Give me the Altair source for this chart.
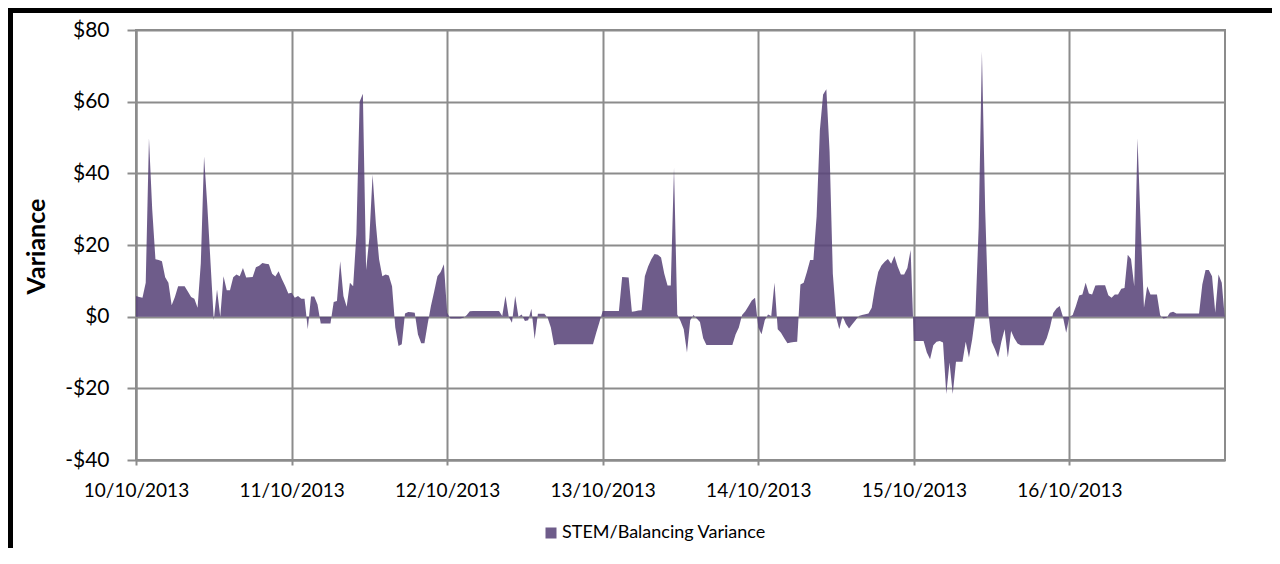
import altair as alt
import pandas as pd

# Half-hourly STEM/Balancing variance ($), one list per day
d10 = [5.8, 5.5, 5.3, 9.5, 49.8, 30.0, 16.0, 15.8, 15.5, 11.0,
       9.5, 3.2, 5.5, 8.5, 8.5, 8.5, 7.0, 5.5, 5.0, 2.5,
       15.0, 44.7, 31.0, 15.0, -1.0, 7.6, 0.0, 11.3, 7.4, 7.4,
       11.0, 11.8, 11.3, 13.6, 10.9, 11.0, 11.1, 13.8, 14.2, 15.0,
       14.8, 14.6, 12.0, 11.2, 12.7, 10.5, 8.6, 6.5]
d11 = [6.7, 5.3, 5.75, 5.0, 5.0, -3.5, 5.6, 5.6, 3.4, -1.9,
       -1.9, -1.9, -1.9, 4.1, 4.4, 15.5, 5.75, 2.8, 9.5, 8.5,
       23.0, 60.0, 62.2, 13.0, 22.0, 39.6, 26.0, 16.0, 11.3, 11.8,
       11.5, 8.5, -3.0, -8.2, -7.7, 0.9, 1.3, 1.2, 1.1, -5.0,
       -7.4, -7.4, -2.0, 3.0, 7.0, 11.3, 12.5, 14.6]
d12 = [1.1, -0.5, -0.5, -0.5, -0.5, -0.3, 0.4, 1.5, 1.6, 1.6,
       1.6, 1.6, 1.6, 1.6, 1.6, 1.6, 1.6, 0.2, 5.75, 0.0,
       -1.7, 5.75, 0.0, 0.6, -1.2, -1.0, 2.2, -6.3, 0.8, 0.8,
       0.8, -0.3, -3.0, -8.0, -7.7, -7.7, -7.7, -7.7, -7.7, -7.7,
       -7.7, -7.7, -7.7, -7.7, -7.7, -7.7, -4.5, -1.5]
d13 = [1.6, 1.6, 1.6, 1.6, 1.6, 1.6, 11.1, 11.0, 10.9, 1.4,
       1.5, 1.7, 1.8, 11.3, 14.0, 16.0, 17.5, 17.3, 16.5, 12.0,
       8.7, 8.7, 41.5, 0.6, -1.2, -3.5, -10.0, -1.0, 0.5, -0.5,
       -1.5, -6.0, -7.9, -7.9, -7.9, -7.9, -7.9, -7.9, -7.9, -7.9,
       -7.9, -5.0, -3.0, 0.5, 1.5, 3.0, 4.5, 5.3]
d14 = [-3.0, -4.9, -1.0, 0.6, 0.2, 9.5, -3.5, -4.5, -6.0, -7.4,
       -7.2, -7.1, -7.0, 9.0, 9.5, 12.5, 15.8, 15.8, 28.0, 52.0,
       62.0, 63.5, 46.0, 12.0, 0.0, -3.5, 0.2, -2.0, -3.3, -2.1,
       -1.0, 0.2, 0.5, 0.7, 0.9, 2.5, 8.0, 12.5, 14.3, 15.3,
       16.1, 14.8, 16.9, 14.0, 11.8, 11.8, 13.6, 18.6]
d15 = [-6.8, -6.8, -6.8, -6.8, -10.0, -11.9, -8.0, -7.0, -6.8, -7.2,
       -21.6, -12.8, -21.6, -12.6, -12.6, -12.6, -7.0, -11.4, -6.3, 0.6,
       25.0, 73.9, 30.0, 1.1, -7.0, -9.0, -11.4, -7.0, -3.5, -11.4,
       -4.0, -6.0, -7.5, -8.0, -8.0, -8.0, -8.0, -8.0, -8.0, -8.0,
       -8.0, -6.0, -3.0, 1.0, 2.3, 3.0, 0.0, -4.5]
d16 = [0.0, 0.5, 3.0, 5.9, 6.2, 9.5, 6.5, 6.2, 8.7, 8.8,
       8.8, 8.8, 6.0, 5.3, 6.2, 6.2, 7.8, 8.0, 17.3, 16.1,
       8.5, 49.8, 25.0, 2.5, 8.5, 6.2, 6.2, 6.2, 0.4, -0.5,
       -0.3, 1.1, 1.4, 0.9, 0.9, 0.9, 0.9, 0.9, 0.9, 0.9,
       0.9, 9.0, 13.0, 13.0, 11.3, 1.1, 11.8, 9.5]
d17_start = [-1.0]

series_name = "STEM/Balancing Variance"
y_ticks = [-40, -20, 0, 20, 40, 60, 80]
label_days = [10, 11, 12, 13, 14, 15, 16]

values = d10 + d11 + d12 + d13 + d14 + d15 + d16 + d17_start
times = pd.date_range("2013-10-10 00:00", periods=len(values), freq="30min")
df = pd.DataFrame({"time": times, "value": values, "series": series_name})

GRID = "#8C8C8C"

area = alt.Chart(df).mark_area(interpolate="linear", opacity=0.88).encode(
    x=alt.X(
        "time:T",
        scale=alt.Scale(domain=[alt.DateTime(year=2013, month=10, date=10),
                                alt.DateTime(year=2013, month=10, date=17)]),
        axis=alt.Axis(
            values=[alt.DateTime(year=2013, month=10, date=d) for d in label_days],
            format="%d/%m/%Y", title=None, labelFontSize=19, labelPadding=16,
            tickSize=5, labelAngle=0, labelAlign="center",
        ),
    ),
    y=alt.Y(
        "value:Q", stack=None,
        scale=alt.Scale(domain=[-40, 80], nice=False, zero=True),
        axis=alt.Axis(
            values=y_ticks,
            labelExpr="datum.value < 0 ? '-$' + abs(datum.value) : '$' + datum.value",
            title="Variance", titleFontSize=25, titleFontWeight="bold",
            titleX=-100, titleY=216, titleAngle=270, titleAlign="center",
            titleBaseline="middle", labelFontSize=21, labelPadding=18, tickSize=9,
        ),
    ),
    color=alt.Color(
        "series:N",
        scale=alt.Scale(range=["#5A467A"]),
        legend=alt.Legend(
            title=None, orient="none", legendX=406, legendY=494,
            symbolType="square", symbolSize=121, symbolStrokeWidth=0,
            labelFontSize=18, labelFont="Lato", labelColor="black", labelOffset=2,
            labelLimit=400,
        ),
    ),
)

frame = pd.DataFrame({"k": [0]})
frame_top = alt.Chart(frame).mark_rule(color="black", strokeWidth=5).encode(
    x=alt.value(-128), x2=alt.value(1136), y=alt.value(-19.5)
)
frame_left = alt.Chart(frame).mark_rule(color="black", strokeWidth=5).encode(
    x=alt.value(-125.5), y=alt.value(-22), y2=alt.value(518)
)

chart = alt.layer(area, frame_top, frame_left).properties(
    width=1089, height=430,
    autosize=alt.AutoSizeParams(type="none"),
    padding={"left": 128, "top": 22, "right": 47, "bottom": 88},
    background="white",
).configure_view(
    stroke=GRID, strokeWidth=2
).configure_axis(
    labelFont="Lato", titleFont="Lato", labelColor="black", titleColor="black",
    gridColor=GRID, gridWidth=2, gridOpacity=1,
    domainColor=GRID, domainWidth=2, tickColor=GRID, tickWidth=2,
)

chart.save("out.html", embed_options={"renderer": "svg", "actions": False})
